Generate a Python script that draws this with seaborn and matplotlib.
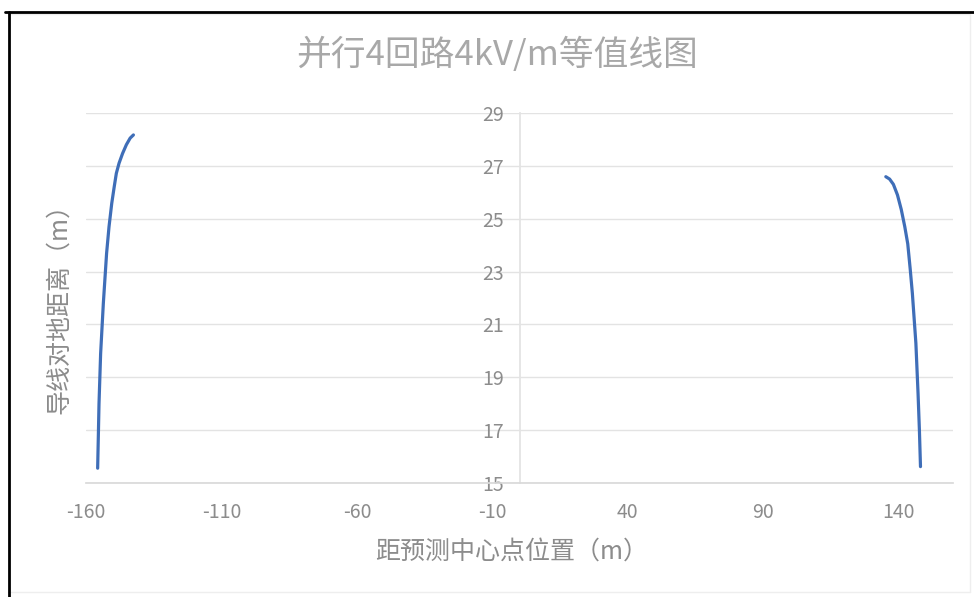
import matplotlib
matplotlib.use("Agg")
import matplotlib.pyplot as plt
from matplotlib.lines import Line2D
import pandas as pd
import seaborn as sns

# contour points (x: m from centre, y: conductor height)
LEFT_X = [-155.7, -155.4, -155.2, -154.6, -153.6, -152.4, -151.5, -150.5,
          -149.6, -148.8, -147.8, -146.5, -145.1, -143.7, -142.5]
LEFT_Y = [15.56, 17.0, 18.0, 19.9, 21.8, 23.69, 24.7, 25.58,
          26.2, 26.72, 27.1, 27.47, 27.8, 28.05, 28.17]
RIGHT_X = [135.2, 136.6, 138.0, 139.5, 140.9, 142.2, 143.3, 144.2,
           145.0, 146.3, 147.1, 147.6, 148.0]
RIGHT_Y = [26.59, 26.5, 26.3, 25.9, 25.35, 24.7, 24.05, 23.1,
           22.18, 20.29, 18.39, 17.0, 15.62]

X_TICKS = [-160, -110, -60, -10, 40, 90, 140]
Y_TICKS = [15, 17, 19, 21, 23, 25, 27, 29]

TITLE = "并行4回路4kV/m等值线图"
XLABEL = "距预测中心点位置（m）"
YLABEL = "导线对地距离（m）"

LINE = "#3F6EB8"
GRID = "#E3E3E3"
TEXT = "#8C8C8C"

sns.set_theme(style="white")
plt.rcParams["font.family"] = ["Noto Sans CJK SC", "DejaVu Sans"]
plt.rcParams["axes.unicode_minus"] = False

df = pd.concat([
    pd.DataFrame({"x": LEFT_X, "y": LEFT_Y, "curve": "left"}),
    pd.DataFrame({"x": RIGHT_X, "y": RIGHT_Y, "curve": "right"}),
])

fig = plt.figure(figsize=(9.74, 5.97), dpi=100)
ax = fig.add_axes([86 / 974, 114 / 597, 867 / 974, 370 / 597])

sns.lineplot(data=df, x="x", y="y", units="curve", estimator=None, sort=False,
             color=LINE, linewidth=2.3, ax=ax, legend=False)

ax.set_xlim(-160, 160)
ax.set_ylim(15, 29)
ax.set_xticks(X_TICKS)
ax.set_yticks(Y_TICKS)
ax.grid(axis="y", color=GRID, linewidth=1)
ax.set_axisbelow(True)

for side in ["top", "right"]:
    ax.spines[side].set_visible(False)
ax.spines["left"].set_position(("data", 0))
ax.spines["left"].set_color(GRID)
ax.spines["bottom"].set_color("#D9D9D9")
ax.tick_params(axis="both", length=0, labelsize=14, labelcolor=TEXT)
ax.tick_params(axis="x", pad=14)
ax.tick_params(axis="y", pad=11)
ax.set_xlabel("")
ax.set_ylabel("")

fig.text(497 / 974, 1 - 55 / 597, TITLE, ha="center", va="center",
         fontsize=25, color="#A8A8A8")
fig.text(512 / 974, 1 - 552 / 597, XLABEL, ha="center", va="center",
         fontsize=18, color=TEXT)
fig.text(59 / 974, 1 - 303 / 597, YLABEL, ha="center", va="center",
         rotation=90, fontsize=18, color=TEXT)

# screenshot frame: black on top and left, faint chart border elsewhere
fig.add_artist(Line2D([8 / 974, 970 / 974, 970 / 974], [1 - 14 / 597, 1 - 14 / 597, 1 - 592 / 597],
                      color="#EEEEEE", linewidth=1))
fig.add_artist(Line2D([8 / 974, 970 / 974], [1 - 592 / 597, 1 - 592 / 597],
                      color="#EEEEEE", linewidth=1))
fig.add_artist(Line2D([5 / 974, 1], [1 - 12 / 597, 1 - 12 / 597], color="black", linewidth=2))
fig.add_artist(Line2D([8.5 / 974, 8.5 / 974], [0, 1 - 12 / 597], color="black", linewidth=2))

fig.savefig("out.png", dpi=100)
